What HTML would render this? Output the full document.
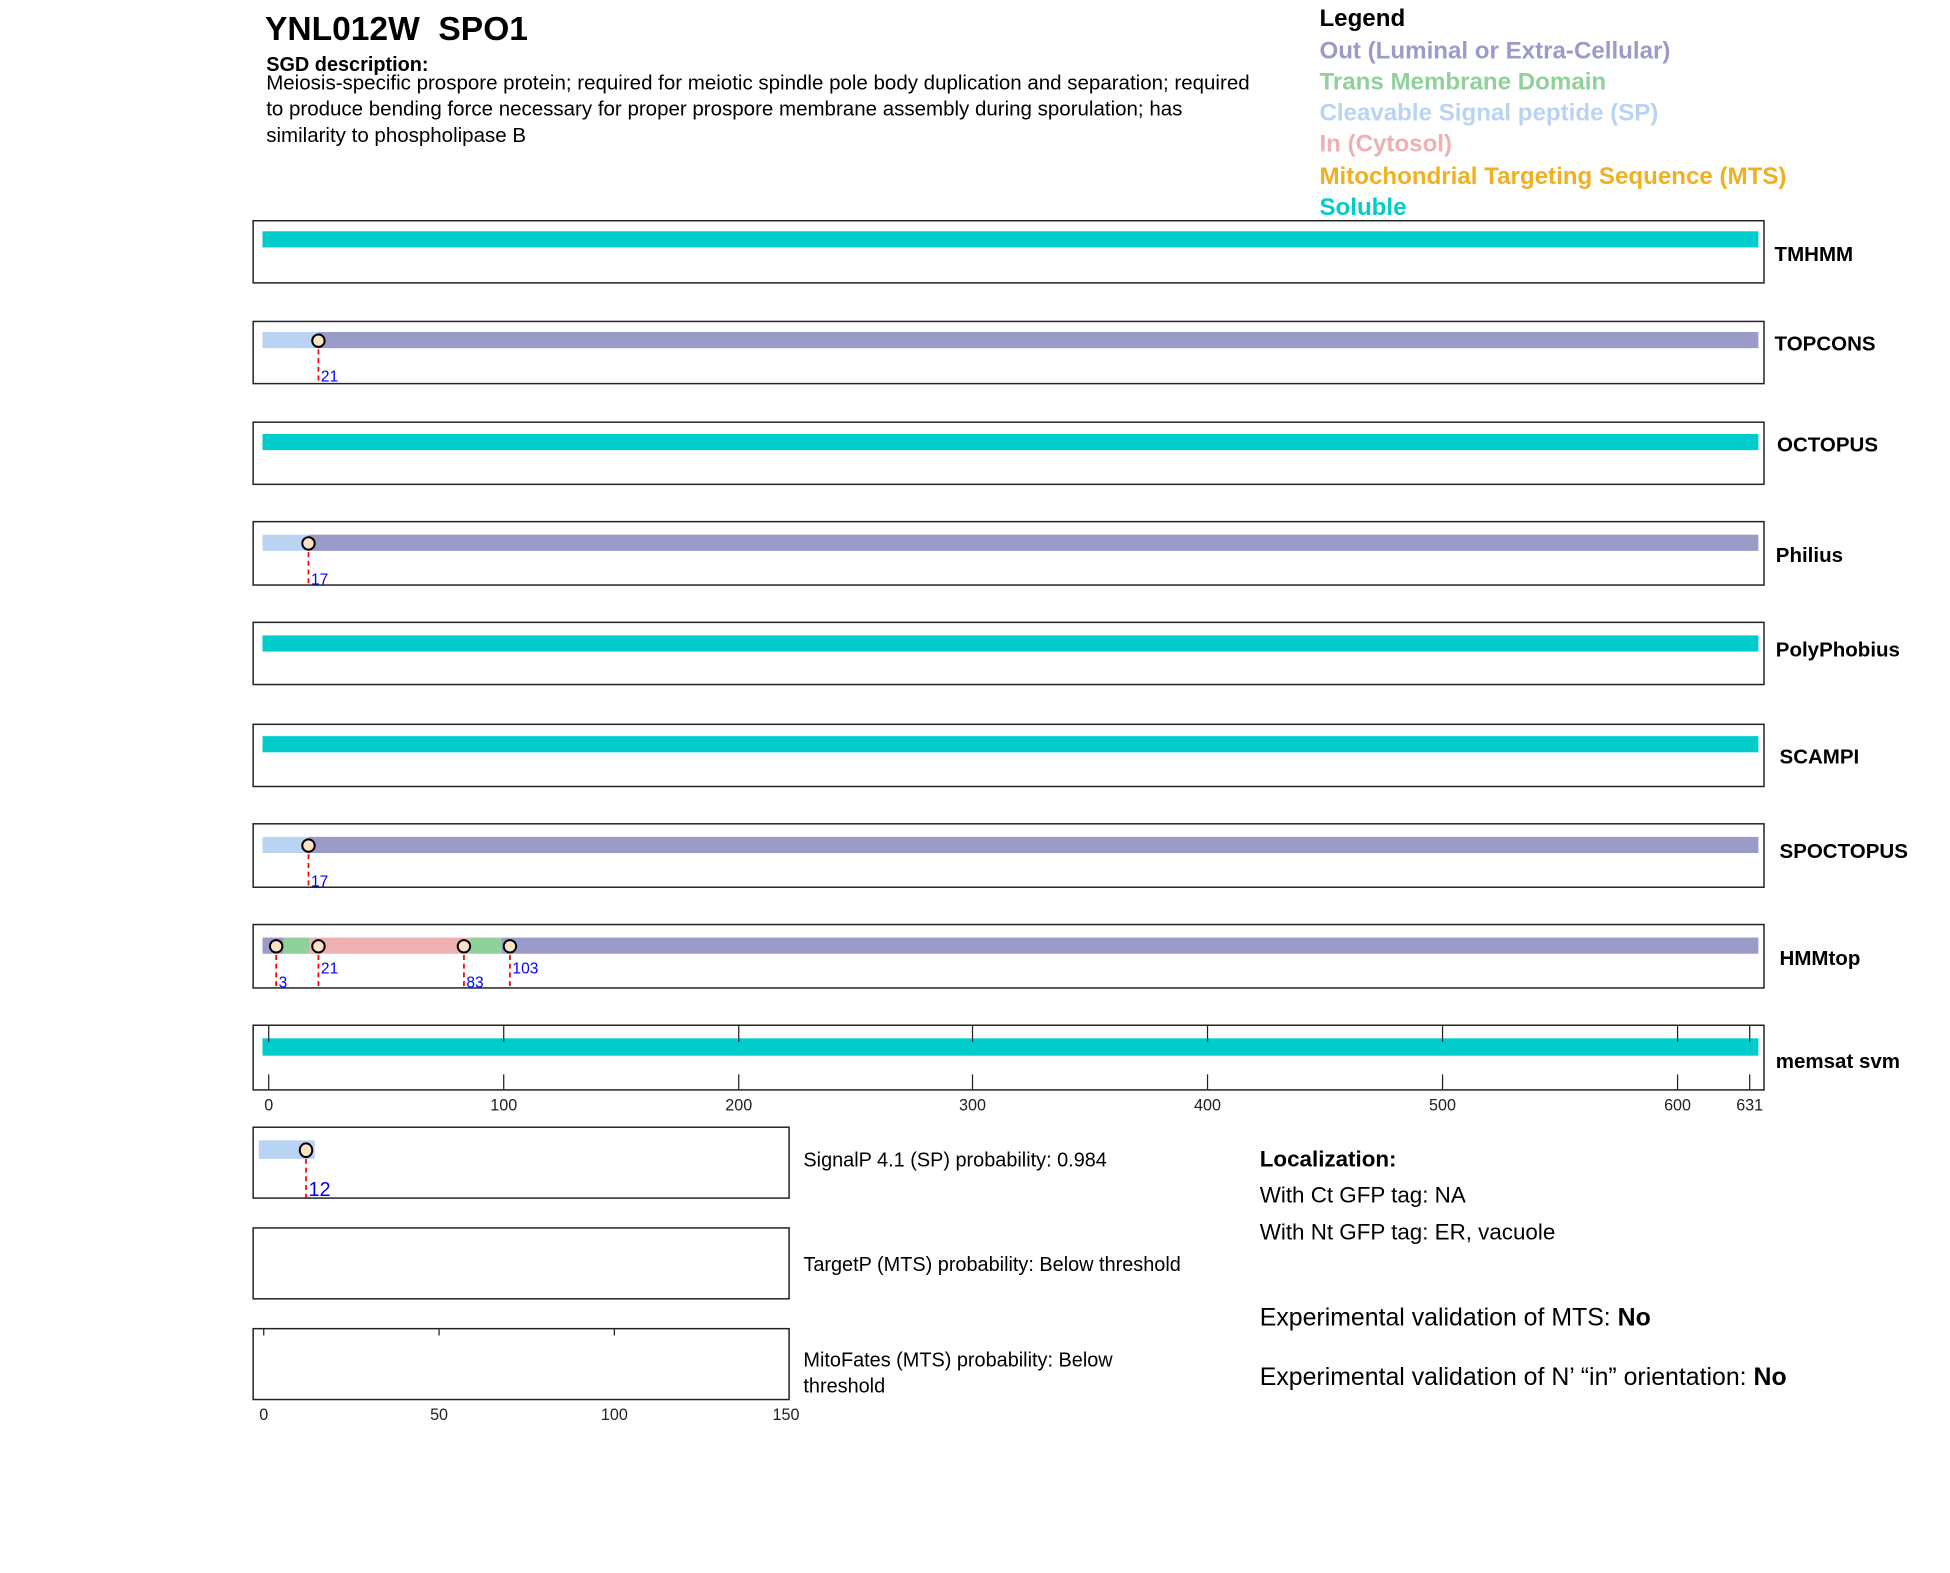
<!DOCTYPE html>
<html><head><meta charset="utf-8"><style>
html,body{margin:0;padding:0;background:#fff;}
svg{display:block;}
text{font-family:"Liberation Sans",Arial,sans-serif;}
.lab{font-size:16.5px;font-weight:bold;fill:#000;}
.tk{font-size:13px;fill:#222;}
.num{font-size:12.5px;fill:#0000ff;}
.box{fill:none;stroke:#222;stroke-width:1.2;}
.mk{fill:#fde3c6;stroke:#000;stroke-width:1.6;}
.dl{stroke:#f00;stroke-width:1.4;stroke-dasharray:4,3;}
</style></head><body>
<svg width="1950" height="1573" viewBox="0 0 1568 1265" xmlns="http://www.w3.org/2000/svg">
<rect width="1568" height="1265" fill="#fff"/>
<text x="213" y="32" font-size="27" font-weight="bold">YNL012W&#160;&#160;SPO1</text>
<text x="214" y="57" font-size="16" font-weight="bold">SGD description:</text>
<text x="214" y="72" font-size="16.5">Meiosis-specific prospore protein; required for meiotic spindle pole body duplication and separation; required</text>
<text x="214" y="93" font-size="16.5">to produce bending force necessary for proper prospore membrane assembly during sporulation; has</text>
<text x="214" y="114" font-size="16.5">similarity to phospholipase B</text>

<g font-size="19.4" font-weight="bold">
<text x="1061" y="21" fill="#000">Legend</text>
<text x="1061" y="47" fill="#9b9bca">Out (Luminal or Extra-Cellular)</text>
<text x="1061" y="72" fill="#90d19a">Trans Membrane Domain</text>
<text x="1061" y="97" fill="#b9d4f2">Cleavable Signal peptide (SP)</text>
<text x="1061" y="122" fill="#eeb0b0">In (Cytosol)</text>
<text x="1061" y="148" fill="#f0b020">Mitochondrial Targeting Sequence (MTS)</text>
<text x="1061" y="173" fill="#00cccc">Soluble</text>
</g>

<rect class="box" x="203.5" y="177.5" width="1215" height="50"/>
<rect x="211" y="186" width="1203" height="13" fill="#00cccc"/>
<text class="lab" x="1427" y="210">TMHMM</text>

<rect class="box" x="203.5" y="258.5" width="1215" height="50"/>
<rect x="211" y="267" width="45" height="13" fill="#b9d4f2"/>
<rect x="256" y="267" width="1158" height="13" fill="#9b9bca"/>
<line class="dl" x1="256" y1="274" x2="256" y2="309"/>
<ellipse class="mk" cx="256" cy="274" rx="5" ry="5"/>
<text class="num" x="258" y="307">21</text>
<text class="lab" x="1427" y="282">TOPCONS</text>

<rect class="box" x="203.5" y="339.5" width="1215" height="50"/>
<rect x="211" y="349" width="1203" height="13" fill="#00cccc"/>
<text class="lab" x="1429" y="363">OCTOPUS</text>

<rect class="box" x="203.5" y="419.5" width="1215" height="51"/>
<rect x="211" y="430" width="37" height="13" fill="#b9d4f2"/>
<rect x="248" y="430" width="1166" height="13" fill="#9b9bca"/>
<line class="dl" x1="248" y1="437" x2="248" y2="471"/>
<ellipse class="mk" cx="248" cy="437" rx="5" ry="5"/>
<text class="num" x="250" y="470">17</text>
<text class="lab" x="1428" y="452">Philius</text>

<rect class="box" x="203.5" y="500.5" width="1215" height="50"/>
<rect x="211" y="511" width="1203" height="13" fill="#00cccc"/>
<text class="lab" x="1428" y="528">PolyPhobius</text>

<rect class="box" x="203.5" y="582.5" width="1215" height="50"/>
<rect x="211" y="592" width="1203" height="13" fill="#00cccc"/>
<text class="lab" x="1431" y="614">SCAMPI</text>

<rect class="box" x="203.5" y="662.5" width="1215" height="51"/>
<rect x="211" y="673" width="37" height="13" fill="#b9d4f2"/>
<rect x="248" y="673" width="1166" height="13" fill="#9b9bca"/>
<line class="dl" x1="248" y1="680" x2="248" y2="714"/>
<ellipse class="mk" cx="248" cy="680" rx="5" ry="5"/>
<text class="num" x="250" y="713">17</text>
<text class="lab" x="1431" y="690">SPOCTOPUS</text>

<rect class="box" x="203.5" y="743.5" width="1215" height="51"/>
<rect x="211" y="754" width="17" height="13" fill="#9b9bca"/>
<rect x="228" y="754" width="21" height="13" fill="#90d19a"/>
<rect x="249" y="754" width="129" height="13" fill="#eeb0b0"/>
<rect x="378" y="754" width="25" height="13" fill="#90d19a"/>
<rect x="403" y="754" width="1011" height="13" fill="#9b9bca"/>
<line class="dl" x1="222" y1="761" x2="222" y2="795"/>
<line class="dl" x1="256" y1="761" x2="256" y2="795"/>
<line class="dl" x1="373" y1="761" x2="373" y2="795"/>
<line class="dl" x1="410" y1="761" x2="410" y2="795"/>
<ellipse class="mk" cx="222" cy="761" rx="5" ry="5"/>
<ellipse class="mk" cx="256" cy="761" rx="5" ry="5"/>
<ellipse class="mk" cx="373" cy="761" rx="5" ry="5"/>
<ellipse class="mk" cx="410" cy="761" rx="5" ry="5"/>
<text class="num" x="224" y="794">3</text>
<text class="num" x="258" y="783">21</text>
<text class="num" x="375" y="794">83</text>
<text class="num" x="412" y="783">103</text>
<text class="lab" x="1431" y="776">HMMtop</text>

<rect class="box" x="203.5" y="824.5" width="1215" height="52"/>
<rect x="211" y="835" width="1203" height="14" fill="#00cccc"/>
<g stroke="#222" stroke-width="1">
<line x1="216" y1="825" x2="216" y2="838"/><line x1="216" y1="864" x2="216" y2="876"/>
<line x1="405" y1="825" x2="405" y2="838"/><line x1="405" y1="864" x2="405" y2="876"/>
<line x1="594" y1="825" x2="594" y2="838"/><line x1="594" y1="864" x2="594" y2="876"/>
<line x1="782" y1="825" x2="782" y2="838"/><line x1="782" y1="864" x2="782" y2="876"/>
<line x1="971" y1="825" x2="971" y2="838"/><line x1="971" y1="864" x2="971" y2="876"/>
<line x1="1160" y1="825" x2="1160" y2="838"/><line x1="1160" y1="864" x2="1160" y2="876"/>
<line x1="1349" y1="825" x2="1349" y2="838"/><line x1="1349" y1="864" x2="1349" y2="876"/>
<line x1="1407" y1="825" x2="1407" y2="838"/><line x1="1407" y1="864" x2="1407" y2="876"/>
</g>
<g text-anchor="middle">
<text class="tk" x="216" y="893">0</text><text class="tk" x="405" y="893">100</text>
<text class="tk" x="594" y="893">200</text><text class="tk" x="782" y="893">300</text>
<text class="tk" x="971" y="893">400</text><text class="tk" x="1160" y="893">500</text>
<text class="tk" x="1349" y="893">600</text><text class="tk" x="1407" y="893">631</text>
</g>
<text class="lab" x="1428" y="859">memsat svm</text>

<rect class="box" x="203.5" y="906.5" width="431" height="57"/>
<rect x="208" y="917" width="45" height="15" fill="#b9d4f2"/>
<line class="dl" x1="246" y1="925" x2="246" y2="963" stroke-dasharray="4,2,1,2"/>
<ellipse class="mk" cx="246" cy="925" rx="5" ry="5.5"/>
<text x="248" y="962" font-size="16" fill="#0000ff">12</text>
<text x="646" y="938" font-size="16">SignalP 4.1 (SP) probability: 0.984</text>

<rect class="box" x="203.5" y="987.5" width="431" height="57"/>
<text x="646" y="1022" font-size="16">TargetP (MTS) probability: Below threshold</text>

<rect class="box" x="203.5" y="1068.5" width="431" height="57"/>
<g stroke="#222" stroke-width="1">
<line x1="212" y1="1069" x2="212" y2="1074"/><line x1="353" y1="1069" x2="353" y2="1074"/><line x1="494" y1="1069" x2="494" y2="1074"/>
</g>
<text class="tk" x="212" y="1142" text-anchor="middle">0</text>
<text class="tk" x="353" y="1142" text-anchor="middle">50</text>
<text class="tk" x="494" y="1142" text-anchor="middle">100</text>
<text class="tk" x="632" y="1142" text-anchor="middle">150</text>
<text x="646" y="1099" font-size="16">MitoFates (MTS) probability: Below</text>
<text x="646" y="1120" font-size="16">threshold</text>

<text x="1013" y="938" font-size="18" font-weight="bold">Localization:</text>
<text x="1013" y="967" font-size="18">With Ct GFP tag: NA</text>
<text x="1013" y="997" font-size="18">With Nt GFP tag: ER, vacuole</text>
<text x="1013" y="1066" font-size="20">Experimental validation of MTS: <tspan font-weight="bold">No</tspan></text>
<text x="1013" y="1114" font-size="20">Experimental validation of N’ “in” orientation: <tspan font-weight="bold">No</tspan></text>
</svg>
</body></html>
